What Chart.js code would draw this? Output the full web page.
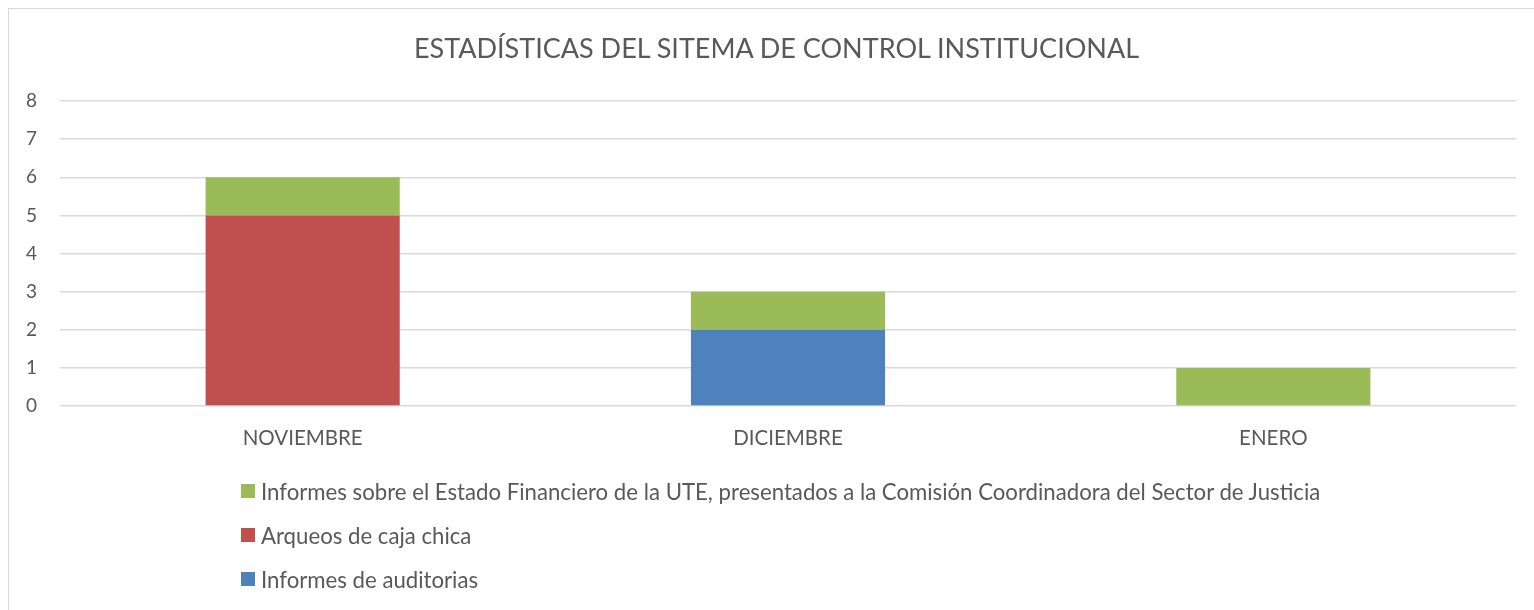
<!DOCTYPE html>
<html>
<head>
<meta charset="utf-8">
<script src="https://cdn.jsdelivr.net/npm/chart.js@4/dist/chart.umd.min.js"></script>
<style>
  html, body { margin: 0; padding: 0; background: #fff; }
  #wrap { position: relative; width: 1534px; height: 610px; overflow: hidden; }
  #frame { position: absolute; left: 8px; top: 8px; width: 1600px; height: 700px; border: 1px solid #d9d9d9; }
  #myChart { position: absolute; left: 0; top: 0; }
  #title { position: absolute; left: 0; top: 30px; width: 1553px; text-align: center; line-height: 36px;
           font-family: Lato, sans-serif; font-size: 27px; color: #595959; white-space: nowrap; }
  #legend { position: absolute; left: 241px; top: 477px; font-family: Lato, sans-serif; font-size: 22.2px; color: #595959; }
  .item { display: flex; align-items: center; height: 28px; margin-bottom: 16px; }
  .box { width: 14px; height: 14px; margin-right: 6px; }
</style>
</head>
<body>
<div id="wrap">
  <div id="frame"></div>
  <canvas id="myChart" width="1534" height="610"></canvas>
  <div id="title"></div>
  <div id="legend"></div>
</div>
<script>
var meses = ['NOVIEMBRE', 'DICIEMBRE', 'ENERO'];
var auditorias = [0, 2, 0];
var arqueos = [5, 0, 0];
var estadoFinanciero = [1, 1, 1];
var titulo = 'ESTADÍSTICAS DEL SITEMA DE CONTROL INSTITUCIONAL';

var textColor = '#595959';
var gridColor = '#d9d9d9';

var ctx = document.getElementById('myChart');
var myChart = new Chart(ctx, {
    type: 'bar',
    data: {
        labels: meses,
        datasets: [
            { label: 'Informes de auditorias', data: auditorias, backgroundColor: '#4f81bd' },
            { label: 'Arqueos de caja chica', data: arqueos, backgroundColor: '#c0504d' },
            { label: 'Informes sobre el Estado Financiero de la UTE, presentados a la Comisión Coordinadora del Sector de Justicia', data: estadoFinanciero, backgroundColor: '#9bbb59' }
        ]
    },
    options: {
        responsive: false,
        animation: false,
        layout: { padding: { left: 0, right: 18, top: 101, bottom: 154 } },
        datasets: { bar: { categoryPercentage: 1, barPercentage: 0.4 } },
        plugins: {
            legend: { display: false },
            tooltip: { enabled: false },
            title: { display: false }
        },
        scales: {
            x: {
                stacked: true,
                grid: { display: false, drawTicks: false },
                border: { display: false },
                ticks: { color: textColor, font: { family: 'Lato', size: 20.5 }, padding: 20 },
                afterFit: function (scale) { scale.height = 50; }
            },
            y: {
                stacked: true,
                min: 0,
                max: 8,
                grid: { color: gridColor, lineWidth: 1.5, drawTicks: false },
                border: { display: false },
                ticks: { stepSize: 1, color: textColor, font: { family: 'Lato', size: 19 }, padding: 23 },
                afterFit: function (scale) { scale.width = 60; }
            }
        }
    }
});

// titulo y leyenda vertical (orden invertido)
document.getElementById('title').textContent = titulo;
var legendEl = document.getElementById('legend');
var ds = myChart.data.datasets;
for (var i = ds.length - 1; i >= 0; i--) {
    var row = document.createElement('div');
    row.className = 'item';
    row.innerHTML = '<span class="box" style="background:' + ds[i].backgroundColor + '"></span><span>' + ds[i].label + '</span>';
    legendEl.appendChild(row);
}
</script>
</body>
</html>
